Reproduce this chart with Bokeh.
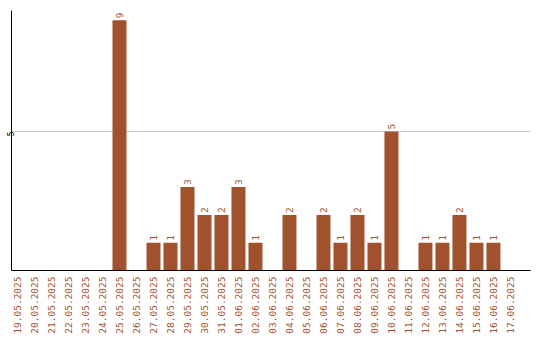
from bokeh.plotting import figure
from bokeh.models import ColumnDataSource, Range1d, FixedTicker
from bokeh.core.properties import value
from bokeh.embed import file_html
from bokeh.resources import INLINE
import math

dates = ["19.05.2025", "20.05.2025", "21.05.2025", "22.05.2025", "23.05.2025",
         "24.05.2025", "25.05.2025", "26.05.2025", "27.05.2025", "28.05.2025",
         "29.05.2025", "30.05.2025", "31.05.2025", "01.06.2025", "02.06.2025",
         "03.06.2025", "04.06.2025", "05.06.2025", "06.06.2025", "07.06.2025",
         "08.06.2025", "09.06.2025", "10.06.2025", "11.06.2025", "12.06.2025",
         "13.06.2025", "14.06.2025", "15.06.2025", "16.06.2025", "17.06.2025"]
counts = [0, 0, 0, 0, 0, 0, 9, 0, 1, 1, 3, 2, 2, 3, 1, 0, 2, 0, 2, 1, 2, 1, 5, 0, 1, 1, 2, 1, 1, 0]
y_ticks = [5]

COLOR = "#A0522D"
FONT = "DejaVu Sans Mono"

idx = list(range(len(dates)))
src = ColumnDataSource(dict(x=idx, top=counts))
nz = [i for i in idx if counts[i] > 0]
lab = ColumnDataSource(dict(x=nz, y=[counts[i] for i in nz], t=[str(counts[i]) for i in nz]))

p = figure(width=540, height=340, output_backend="svg", toolbar_location=None,
           x_range=Range1d(-0.353, 30.18), y_range=Range1d(0, 9.35),
           min_border_left=0, min_border_right=10, min_border_top=10, min_border_bottom=70)
p.outline_line_color = None
p.background_fill_color = "white"
p.border_fill_color = "white"

p.vbar(x="x", top="top", bottom=0, width=14/17, source=src, fill_color=COLOR, line_color=None)
p.text(x="x", y="y", text="t", source=lab, angle=math.pi/2, text_align="left",
       text_baseline="middle", x_offset=0, y_offset=-2, text_color=COLOR,
       text_font=value(FONT), text_font_size="9.5px")

p.xgrid.visible = False
p.ygrid.ticker = FixedTicker(ticks=y_ticks)
p.ygrid.grid_line_color = "#c8c8c8"

xa = p.xaxis[0]
xa.ticker = FixedTicker(ticks=idx)
xa.major_label_overrides = {i: d for i, d in enumerate(dates)}
xa.major_label_orientation = math.pi/2
xa.major_label_text_color = COLOR
xa.major_label_text_font = FONT
xa.major_label_text_font_size = "9.5px"
xa.major_tick_out = 0
xa.major_tick_in = 0
xa.minor_tick_out = 0
xa.minor_tick_in = 0
xa.major_label_standoff = 6
xa.axis_line_color = "black"

ya = p.yaxis[0]
ya.ticker = FixedTicker(ticks=y_ticks)
ya.major_label_orientation = math.pi/2
ya.major_label_text_color = "black"
ya.major_label_text_font = FONT
ya.major_label_text_font_size = "8px"
ya.major_tick_out = 0
ya.major_tick_in = 0
ya.minor_tick_out = 0
ya.minor_tick_in = 0
ya.major_label_standoff = 1
ya.axis_line_color = "black"

open("out.html", "w").write(file_html(p, INLINE))
